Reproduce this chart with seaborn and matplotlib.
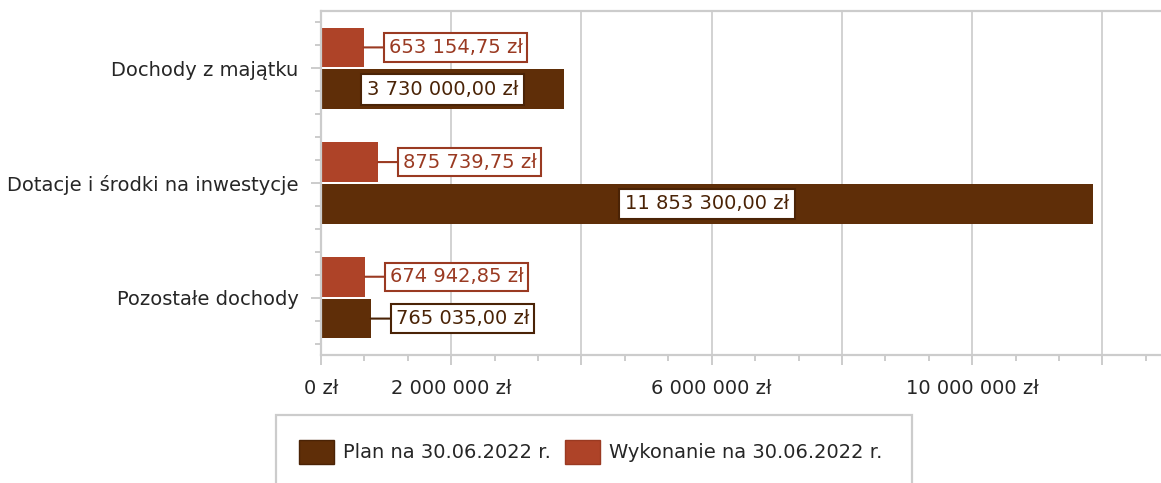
import pandas as pd
import seaborn as sns
import matplotlib.pyplot as plt
from matplotlib.ticker import MultipleLocator, FuncFormatter
from matplotlib.patches import Patch, Rectangle

categories = ['Dochody z majątku', 'Dotacje i środki na inwestycje', 'Pozostałe dochody']
plan = [3730000.00, 11853300.00, 765035.00]
wykonanie = [653154.75, 875739.75, 674942.85]
series = ['Plan na 30.06.2022 r.', 'Wykonanie na 30.06.2022 r.']
labeled_ticks = [0, 2000000, 6000000, 10000000]

bar_colors = {series[0]: '#5f2e08', series[1]: '#ae4328'}
edge_colors = {series[0]: '#4a2306', series[1]: '#9a3a22'}


def pln(v, decimals=2):
    s = f'{v:,.{decimals}f}'.replace(',', ' ').replace('.', ',')
    return s + ' zł'


df = pd.DataFrame({
    'kategoria': categories * 2,
    'seria': [series[0]] * len(categories) + [series[1]] * len(categories),
    'kwota': plan + wykonanie,
})

sns.set_style('white')
plt.rcParams['font.family'] = ['DejaVu Sans']
plt.rcParams['font.size'] = 14
plt.rcParams['text.color'] = '#262626'
grey = '#cccccc'

fig = plt.figure(figsize=(11.61, 4.83), dpi=100)
ax = fig.add_axes([321 / 1161, 1 - 355 / 483, 840 / 1161, 344 / 483])

hue_order = [series[1], series[0]]
sns.barplot(df, y='kategoria', x='kwota', hue='seria', hue_order=hue_order, order=categories,
            palette=bar_colors, orient='h', width=0.73, gap=0.05, saturation=1, linewidth=0,
            legend=False, ax=ax)

ax.set_xlim(0, 12.9e6)
ax.set_ylim(len(categories) - 0.5, -0.5)
ax.set_xlabel('')
ax.set_ylabel('')

# axes / ticks
ax.xaxis.set_major_locator(MultipleLocator(2e6))
ax.xaxis.set_minor_locator(MultipleLocator(2e6 / 3))
ax.xaxis.set_major_formatter(FuncFormatter(lambda v, p: pln(v, 0) if round(v) in labeled_ticks else ''))
ax.yaxis.set_minor_locator(MultipleLocator(0.2))
ax.tick_params(axis='both', which='both', bottom=True, left=True, top=False, right=False,
               direction='out', color=grey, width=1.4)
ax.tick_params(axis='both', which='major', length=7.2, pad=9, labelcolor='#262626', labelsize=14)
ax.tick_params(axis='both', which='minor', length=4)
ax.tick_params(axis='x', which='major', pad=10)
ax.grid(axis='x', which='major', color='#d2d2d2', lw=1.4)
ax.set_axisbelow(True)
for side in ['left', 'bottom', 'top']:
    ax.spines[side].set_color(grey)
    ax.spines[side].set_linewidth(1.6)
ax.spines['right'].set_visible(False)

# data labels
for cont, name in zip(ax.containers, hue_order):
    for bar in cont:
        v = bar.get_width()
        yc = bar.get_y() + bar.get_height() / 2
        ec = edge_colors[name]
        if v > 0.2 * ax.get_xlim()[1]:
            ax.text(v / 2, yc, pln(v), ha='center', va='center', color='#4a2306',
                    bbox=dict(boxstyle='square,pad=0.3', fc='white', ec=ec, lw=1.5))
        else:
            ax.annotate(pln(v), xy=(v, yc), xytext=(18, 0), textcoords='offset points',
                        ha='left', va='center', color=ec,
                        bbox=dict(boxstyle='square,pad=0.24', fc='white', ec=ec, lw=1.5),
                        arrowprops=dict(arrowstyle='-', color=ec, lw=1.5, shrinkA=0, shrinkB=0))

# legend
fig.add_artist(Rectangle((276 / 1161, -0.1), (912 - 276) / 1161, 1 - 415 / 483 + 0.1,
                         transform=fig.transFigure, fill=False, ec=grey, lw=1.6))
handles = [Patch(facecolor=bar_colors[s], edgecolor=edge_colors[s], lw=1) for s in series]
fig.legend(handles, series, loc='center left', bbox_to_anchor=(299 / 1161, 1 - 452 / 483),
           frameon=False, ncol=2, borderpad=0, borderaxespad=0, handlelength=1.8,
           handleheight=1.5, handletextpad=0.45, columnspacing=0.75, fontsize=14)

fig.savefig('out.png', dpi=100)
